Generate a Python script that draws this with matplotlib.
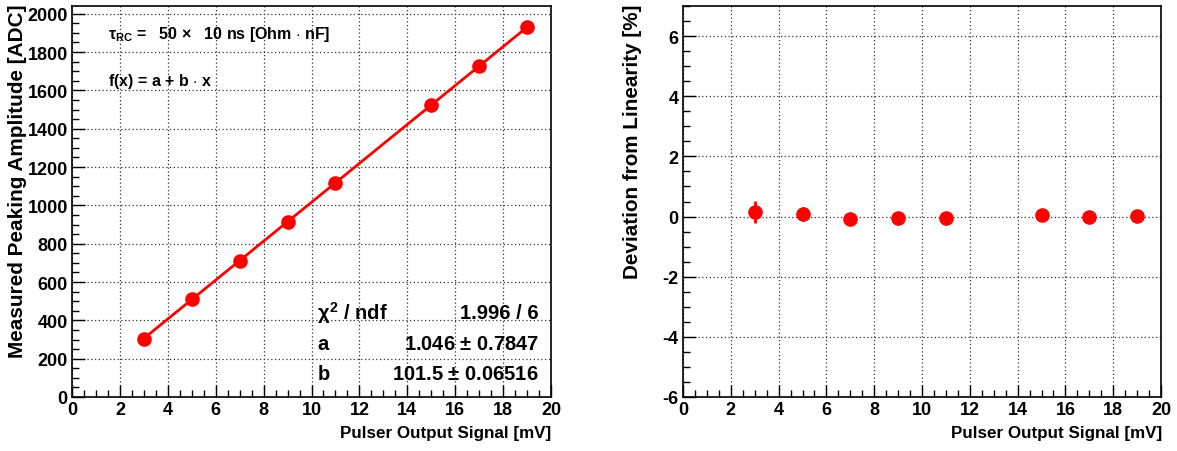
import matplotlib
matplotlib.use("Agg")
import matplotlib.pyplot as plt
from matplotlib.ticker import MultipleLocator
import numpy as np

FONT = 'Liberation Sans'
plt.rcParams['font.family'] = [FONT, 'DejaVu Sans']
plt.rcParams['font.weight'] = 'bold'
plt.rcParams['axes.unicode_minus'] = False
plt.rcParams['mathtext.fontset'] = 'custom'
plt.rcParams['mathtext.rm'] = FONT + ':bold'
plt.rcParams['mathtext.it'] = FONT + ':bold'
plt.rcParams['mathtext.bf'] = FONT + ':bold'

pulser_mv = [3, 5, 7, 9, 11, 15, 17, 19]
amplitude_adc = [305, 510, 712, 915, 1118, 1523, 1727, 1930]
amplitude_err = [3, 3, 3, 3, 3, 3, 3, 3]
fit_a = 1.046
fit_b = 101.5
deviation_pct = [0.15, 0.08, -0.08, -0.05, -0.04, 0.04, -0.02, 0.03]
deviation_err = [0.38, 0.24, 0.06, 0.05, 0.05, 0.04, 0.04, 0.04]

red = '#ff0000'
fig = plt.figure(figsize=(11.77, 4.52), dpi=100)
ax1 = fig.add_axes([72/1177, 54/452, 479/1177, 391/452])
ax2 = fig.add_axes([683/1177, 54/452, 478/1177, 391/452])

def style(ax, ymaj, ymin):
    ax.xaxis.set_major_locator(MultipleLocator(2))
    ax.xaxis.set_minor_locator(MultipleLocator(0.5))
    ax.yaxis.set_major_locator(MultipleLocator(ymaj))
    ax.yaxis.set_minor_locator(MultipleLocator(ymin))
    ax.tick_params(which='both', direction='in', top=False, right=False, width=1.0)
    ax.tick_params(which='major', length=9, labelsize=13, pad=3)
    ax.tick_params(which='minor', length=5)
    ax.tick_params(axis='x', which='major', pad=3)
    ax.grid(True, which='major', linestyle=(0, (1, 2)), color='#333333', linewidth=0.9)
    for s in ax.spines.values():
        s.set_linewidth(1.2)
    for lab in ax.get_xticklabels() + ax.get_yticklabels():
        lab.set_fontweight('bold')

ax1.set_xlim(0, 20)
ax1.set_ylim(0, 2040)
style(ax1, 200, 50)
xf = np.array([pulser_mv[0], pulser_mv[-1]])
ax1.plot(xf, fit_a + fit_b * xf, color=red, lw=2)
ax1.errorbar(pulser_mv, amplitude_adc, yerr=amplitude_err, fmt='o', color=red, ms=9.5, elinewidth=2, capsize=0)
ax1.text(0.075, 0.93, r'$\tau_{RC}$ =   50 $\times$   10 ns [Ohm $\cdot$ nF]', transform=ax1.transAxes, fontsize=11.5, va='center')
ax1.text(0.075, 0.81, r'f(x) = a + b $\cdot$ x', transform=ax1.transAxes, fontsize=11.5, va='center')
rows = [(r'$\chi^2$ / ndf', '1.996 / 6'), ('a', r'1.046 $\pm$ 0.7847'), ('b', r'101.5 $\pm$ 0.06516')]
for i, (l, r) in enumerate(rows):
    y = 0.216 - i * 0.078
    ax1.text(0.512, y, l, transform=ax1.transAxes, fontsize=14.5, va='center', ha='left')
    ax1.text(0.975, y, r, transform=ax1.transAxes, fontsize=14.5, va='center', ha='right')

ax2.set_xlim(0, 20)
ax2.set_ylim(-6, 7)
style(ax2, 2, 0.5)
ax2.errorbar(pulser_mv, deviation_pct, yerr=deviation_err, fmt='o', color=red, ms=9.5, elinewidth=2, capsize=0)

renderer = fig.canvas.get_renderer()
def ylabel_fit(text, xc, top_px, bottom_px):
    t = fig.text(xc / 1177, 1 - top_px / 452, text, rotation=90, ha='center', va='top',
                 fontsize=14, fontweight='bold')
    ext = t.get_window_extent(renderer)
    t.set_fontsize(14 * (bottom_px - top_px) / ext.height)
    return t

def xlabel_fit(text, right_px, left_px, yc):
    t = fig.text(right_px / 1177, 1 - yc / 452, text, ha='right', va='center',
                 fontsize=14, fontweight='bold')
    ext = t.get_window_extent(renderer)
    t.set_fontsize(14 * (right_px - left_px) / ext.width)
    return t

ylabel_fit('Measured Peaking Amplitude [ADC]', 18, 5, 358)
ylabel_fit('Deviation from Linearity [%]', 632, 5, 279)
xlabel_fit('Pulser Output Signal [mV]', 551, 340, 434)
xlabel_fit('Pulser Output Signal [mV]', 1162, 950, 434)

fig.savefig('out.png', dpi=100)
